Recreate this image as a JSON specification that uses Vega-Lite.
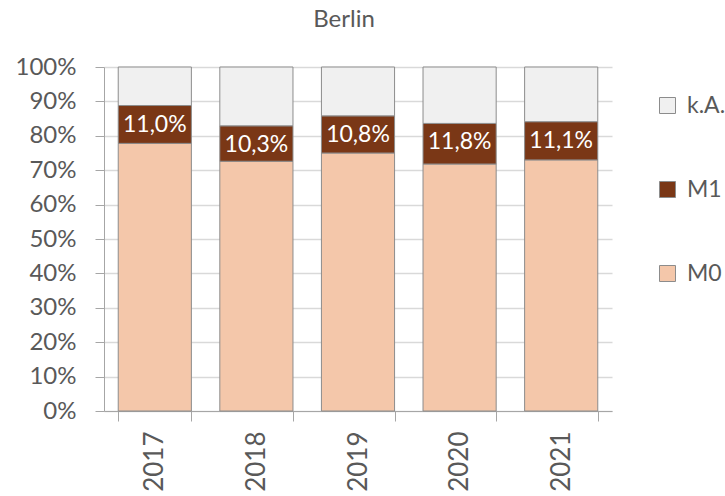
{
  "$schema": "https://vega.github.io/schema/vega-lite/v6.json",
  "autosize": "none",
  "width": 508,
  "height": 344,
  "padding": {"left": 104, "top": 67, "right": 113, "bottom": 85},
  "config": {
    "locale": {"number": {"decimal": ",", "thousands": ".", "grouping": [3], "currency": ["", " €"]}},
    "font": "Lato",
    "view": {"stroke": null}
  },
  "title": {"text": "Berlin", "fontSize": 24, "fontWeight": "normal", "color": "#595959", "font": "Lato", "offset": 23, "dx": -14},
  "data": {
    "values": [
      {"year": "2017", "series": "M0", "ord": 1, "value": 0.778},
      {"year": "2017", "series": "M1", "ord": 2, "value": 0.110},
      {"year": "2017", "series": "k.A.", "ord": 3, "value": 0.112},
      {"year": "2018", "series": "M0", "ord": 1, "value": 0.726},
      {"year": "2018", "series": "M1", "ord": 2, "value": 0.103},
      {"year": "2018", "series": "k.A.", "ord": 3, "value": 0.171},
      {"year": "2019", "series": "M0", "ord": 1, "value": 0.750},
      {"year": "2019", "series": "M1", "ord": 2, "value": 0.108},
      {"year": "2019", "series": "k.A.", "ord": 3, "value": 0.142},
      {"year": "2020", "series": "M0", "ord": 1, "value": 0.718},
      {"year": "2020", "series": "M1", "ord": 2, "value": 0.118},
      {"year": "2020", "series": "k.A.", "ord": 3, "value": 0.164},
      {"year": "2021", "series": "M0", "ord": 1, "value": 0.730},
      {"year": "2021", "series": "M1", "ord": 2, "value": 0.111},
      {"year": "2021", "series": "k.A.", "ord": 3, "value": 0.159}
    ]
  },
  "encoding": {
    "x": {
      "field": "year", "type": "nominal",
      "scale": {"paddingInner": 0.28, "paddingOuter": 0.14},
      "axis": {
        "title": null, "labelAngle": -90, "labelAlign": "right", "labelBaseline": "middle",
        "labelFontSize": 26, "labelColor": "#595959", "labelPadding": 10,
        "domainColor": "#a6a6a6", "tickColor": "#a6a6a6", "tickSize": 10, "tickBand": "extent"
      }
    },
    "y": {
      "field": "value", "type": "quantitative", "stack": "zero",
      "scale": {"domain": [0, 1]},
      "axis": {
        "title": null, "format": ".0%", "values": [0, 0.1, 0.2, 0.3, 0.4, 0.5, 0.6, 0.7, 0.8, 0.9, 1],
        "labelOverlap": false, "labelFontSize": 24, "labelColor": "#595959", "labelPadding": 19,
        "domainColor": "#a6a6a6", "tickColor": "#a6a6a6", "tickSize": 9,
        "gridColor": "#d9d9d9", "gridWidth": 1.5
      }
    },
    "order": {"field": "ord", "type": "quantitative"}
  },
  "layer": [
    {
      "mark": {"type": "bar", "stroke": "#8c8c8c", "strokeWidth": 1},
      "encoding": {
        "color": {
          "field": "series", "type": "nominal",
          "scale": {"domain": ["k.A.", "M1", "M0"], "range": ["#f0f0f0", "#7a3716", "#f4c7aa"]},
          "legend": {
            "title": null, "orient": "none", "legendX": 552, "legendY": 27,
            "symbolType": "square", "symbolSize": 256, "symbolStrokeColor": "#8c8c8c", "symbolStrokeWidth": 1,
            "labelFontSize": 23, "labelColor": "#595959", "rowPadding": 60, "labelOffset": 8
          }
        }
      }
    },
    {
      "mark": {"type": "text", "color": "white", "fontSize": 23, "baseline": "middle", "dy": 19},
      "encoding": {
        "text": {
          "condition": {"test": "datum.series == 'M1'", "field": "value", "type": "quantitative", "format": ".1%"},
          "value": ""
        }
      }
    }
  ]
}
